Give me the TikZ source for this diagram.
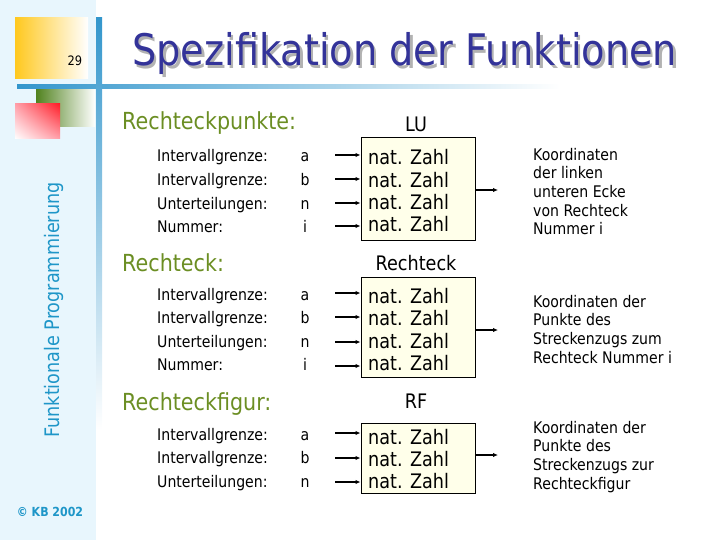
\documentclass[tikz,border=0pt]{standalone}
\usepackage{fontspec}
\setmainfont{DejaVu Sans}[FakeStretch=0.88]
\usetikzlibrary{arrows.meta,shadings}
\definecolor{sidebg}{RGB}{232,246,253}
\definecolor{lineblue}{RGB}{51,150,204}
\definecolor{titleblue}{RGB}{51,51,153}
\definecolor{secgreen}{RGB}{107,142,35}
\definecolor{sideteal}{RGB}{30,150,200}
\definecolor{boxfill}{RGB}{255,255,234}
\definecolor{yell}{RGB}{255,200,30}
\definecolor{grn}{RGB}{80,130,30}
\definecolor{redd}{RGB}{255,30,40}
\definecolor{pinky}{RGB}{255,160,170}
\newcommand{\myfs}[1]{\fontsize{#1}{#1}\selectfont}
\newcommand{\shadowtext}[1]{\makebox[0pt][l]{\hspace{2.5pt}\raisebox{-2.5pt}{\textcolor{black!30}{#1}}}\textcolor{titleblue}{#1}}
\begin{document}
\begin{tikzpicture}[x=1pt,y=-1pt,
  txt/.style={inner sep=0pt,anchor=base west},
  lbl/.style={txt,font=\myfs{16}},
  var/.style={inner sep=0pt,anchor=base,font=\myfs{16}},
  nz/.style={txt,font=\myfs{20}},
  hdr/.style={inner sep=0pt,anchor=base,font=\myfs{20}},
  sec/.style={txt,font=\myfs{23.5},text=secgreen},
  desc/.style={inner sep=0pt,anchor=north west,align=left,font=\fontsize{16}{18.7}\selectfont},
  fbox/.style={draw=black,line width=1pt,fill=boxfill,minimum width=114pt,inner sep=0pt},
  arr/.style={line width=1.4pt,-{Latex[length=5pt,width=4.5pt]}}]
\useasboundingbox (0,0) rectangle (720,540);
% sidebar
\fill[sidebg] (0,0) rectangle (96,540);
\shade[left color=yell,right color=white] (15,18) rectangle (88,79);
\node[inner sep=0pt,font=\myfs{13}] (pg) at (75,61) {29};
\shade[left color=lineblue,right color=white] (17,85) rectangle (560,89);
\shade[top color=lineblue,bottom color=white] (96,18) rectangle (102,430);
\shade[left color=grn,right color=white] (36,90) rectangle (95,127);
\shade[upper right=redd,lower left=white,upper left=pinky,lower right=pinky] (15,104) rectangle (60,139);
\node[inner sep=0pt,anchor=base,rotate=90,font=\myfs{20},text=sideteal] (side) at (59,310) {Funktionale Programmierung};
\node[inner sep=0pt,font=\bfseries\myfs{12.5},text=sideteal] (copy) at (50,512) {© KB 2002};
% title
\node[txt,font=\myfs{43.5}] (tit) at (132,66) {\shadowtext{Spezifikation der Funktionen}};
% section 1
\node[sec] (s1) at (122,130) {Rechteckpunkte:};
\node[lbl] (l11) at (157,162) {Intervallgrenze:};
\node[lbl] (l12) at (157,186) {Intervallgrenze:};
\node[lbl] (l13) at (157,210) {Unterteilungen:};
\node[lbl] (l14) at (157,233) {Nummer:};
\node[var] (v11) at (305,162) {a};
\node[var] (v12) at (305,186) {b};
\node[var] (v13) at (305,210) {n};
\node[var] (v14) at (305,233) {i};
\node[hdr] (h1) at (416,132) {LU};
\node[fbox,minimum height=102pt] (b1) at (418,189) {};
\node[nz] (n11) at (368,165) {nat. Zahl};
\node[nz] (n12) at (368,187.5) {nat. Zahl};
\node[nz] (n13) at (368,210) {nat. Zahl};
\node[nz] (n14) at (368,232) {nat. Zahl};
\foreach \i/\y in {1/155,2/179,3/203,4/226}{
  \coordinate (a1\i) at (335,\y);
  \draw[arr] (a1\i) -- (a1\i -| b1.west);
}
\coordinate (o1) at (498,190);
\draw[arr] (o1 -| b1.east) -- (o1);
\node[desc] (d1) at (533,147.8) {Koordinaten\\der linken\\unteren Ecke\\von Rechteck\\Nummer i};
% section 2
\node[sec] (s2) at (122,271) {Rechteck:};
\node[lbl] (l21) at (157,300) {Intervallgrenze:};
\node[lbl] (l22) at (157,323) {Intervallgrenze:};
\node[lbl] (l23) at (157,347) {Unterteilungen:};
\node[lbl] (l24) at (157,370) {Nummer:};
\node[var] (v21) at (305,300) {a};
\node[var] (v22) at (305,323) {b};
\node[var] (v23) at (305,347) {n};
\node[var] (v24) at (305,370) {i};
\node[hdr] (h2) at (416,270) {Rechteck};
\node[fbox,minimum height=100pt] (b2) at (418,327) {};
\node[nz] (n21) at (368,303) {nat. Zahl};
\node[nz] (n22) at (368,325.5) {nat. Zahl};
\node[nz] (n23) at (368,348) {nat. Zahl};
\node[nz] (n24) at (368,370) {nat. Zahl};
\foreach \i/\y in {1/293,2/317,3/342,4/366}{
  \coordinate (a2\i) at (335,\y);
  \draw[arr] (a2\i) -- (a2\i -| b2.west);
}
\coordinate (o2) at (498,330);
\draw[arr] (o2 -| b2.east) -- (o2);
\node[desc] (d2) at (533,294.8) {Koordinaten der\\Punkte des\\Streckenzugs zum\\Rechteck Nummer i};
% section 3
\node[sec] (s3) at (122,410) {Rechteckfigur:};
\node[lbl] (l31) at (157,440) {Intervallgrenze:};
\node[lbl] (l32) at (157,463) {Intervallgrenze:};
\node[lbl] (l33) at (157,487) {Unterteilungen:};
\node[var] (v31) at (305,440) {a};
\node[var] (v32) at (305,463) {b};
\node[var] (v33) at (305,487) {n};
\node[hdr] (h3) at (416,408) {RF};
\node[fbox,minimum height=70pt] (b3) at (418,458) {};
\node[nz] (n31) at (368,444) {nat. Zahl};
\node[nz] (n32) at (368,466.5) {nat. Zahl};
\node[nz] (n33) at (368,488.5) {nat. Zahl};
\foreach \i/\y in {1/433,2/458,3/482}{
  \coordinate (a3\i) at (335,\y);
  \draw[arr] (a3\i) -- (a3\i -| b3.west);
}
\coordinate (o3) at (498,455);
\draw[arr] (o3 -| b3.east) -- (o3);
\node[desc] (d3) at (533,420.8) {Koordinaten der\\Punkte des\\Streckenzugs zur\\Rechteckfigur};
\end{tikzpicture}
\end{document}
